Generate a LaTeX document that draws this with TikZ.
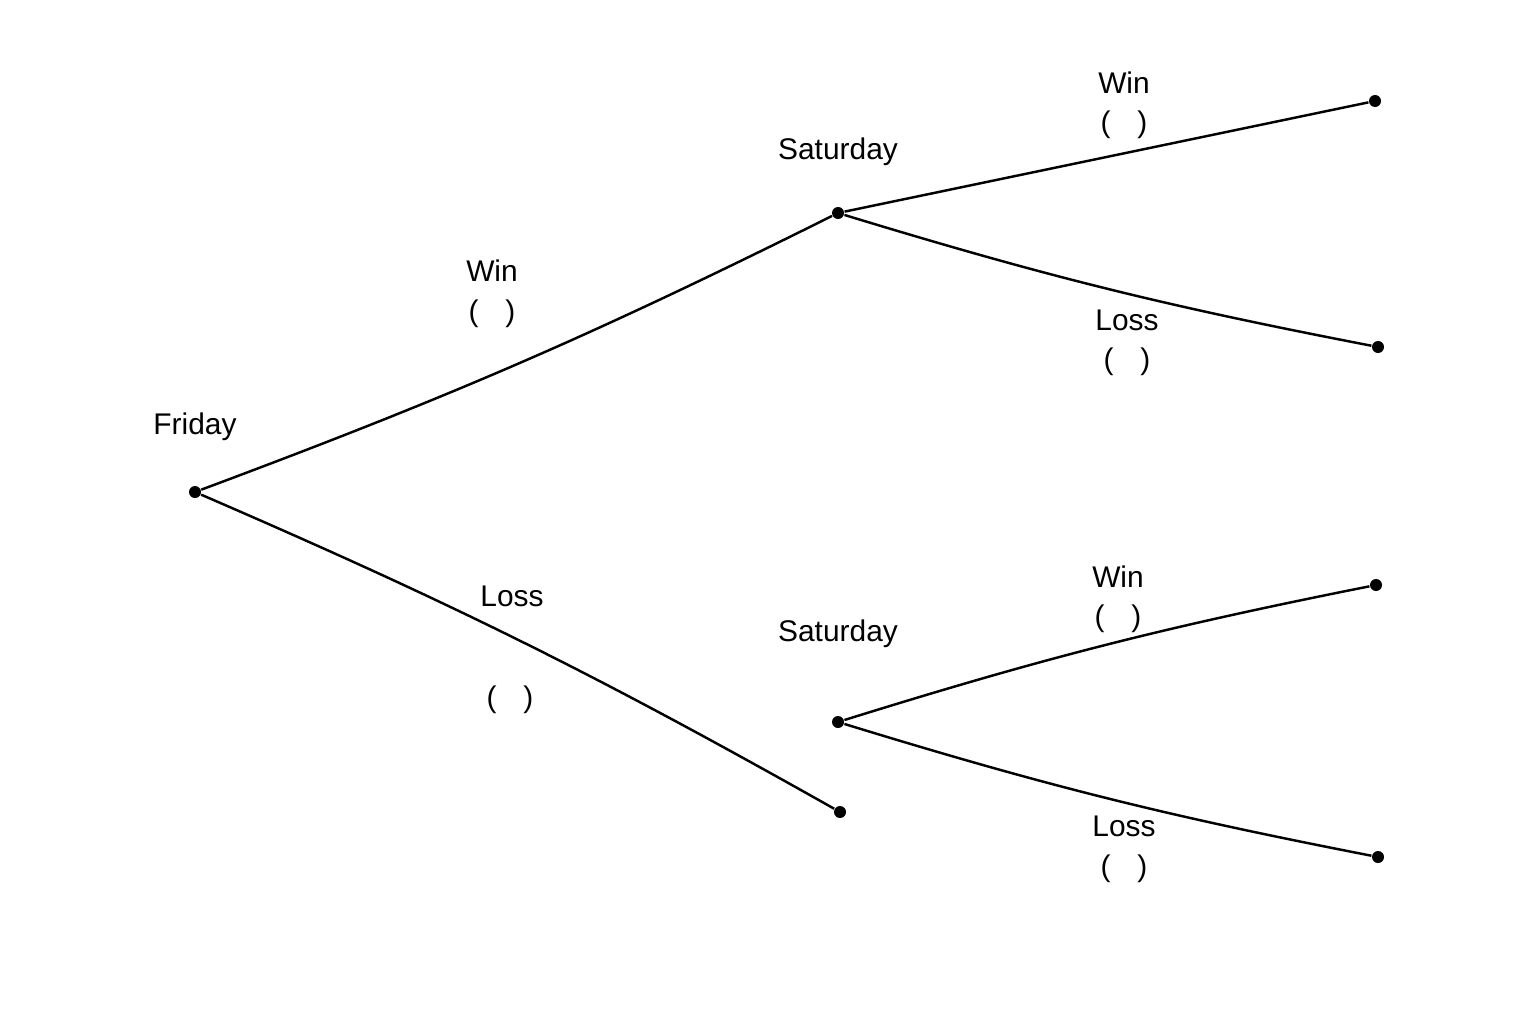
\documentclass[tikz,border=0pt]{standalone}
\usepackage{fontspec}
\setmainfont{Liberation Sans}
\begin{document}
\begin{tikzpicture}[x=0.01cm,y=-0.01cm,
    dot/.style={circle,fill=black,inner sep=0pt,minimum size=0.12cm},
    lbl/.style={font=\fontsize{8.5}{10}\selectfont},
    branch/.style={line width=0.7pt}]
    \useasboundingbox (0,0) rectangle (1536,1024);

    \node[dot] (fri) at (195,492) {};
    \node[dot] (sat1) at (838,213) {};
    \node[dot] (sat2) at (838,722) {};
    \node[dot] (lossend) at (840,812) {};
    \node[dot] (ww) at (1375,101) {};
    \node[dot] (wl) at (1378,347) {};
    \node[dot] (lw) at (1376,585) {};
    \node[dot] (ll) at (1378,857) {};

    \draw[branch] (fri) to[bend right=3] (sat1);
    \draw[branch] (fri) to[bend left=3] (lossend);
    \draw[branch] (sat1) -- (ww);
    \draw[branch] (sat1) to[bend right=3] (wl);
    \draw[branch] (sat2) to[bend left=3] (lw);
    \draw[branch] (sat2) to[bend right=3] (ll);

    \node[lbl] (fril) at (195,427) {Friday};
    \node[lbl] (sat1l) at (838,152) {Saturday};
    \node[lbl] (sat2l) at (838,634) {Saturday};
    \node[lbl] (w1) at (492,271) {Win};
    \node[lbl] (w1p) at (492,314) {(\hspace{0.9em})};
    \node[lbl] (l1) at (512,596) {Loss};
    \node[lbl] (l1p) at (510,700) {(\hspace{0.9em})};
    \node[lbl] (w2) at (1124,83) {Win};
    \node[lbl] (w2p) at (1124,125) {(\hspace{0.9em})};
    \node[lbl] (l2) at (1127,320) {Loss};
    \node[lbl] (l2p) at (1127,362) {(\hspace{0.9em})};
    \node[lbl] (w3) at (1118,577) {Win};
    \node[lbl] (w3p) at (1118,619) {(\hspace{0.9em})};
    \node[lbl] (l3) at (1124,826) {Loss};
    \node[lbl] (l3p) at (1124,869) {(\hspace{0.9em})};
\end{tikzpicture}
\end{document}
